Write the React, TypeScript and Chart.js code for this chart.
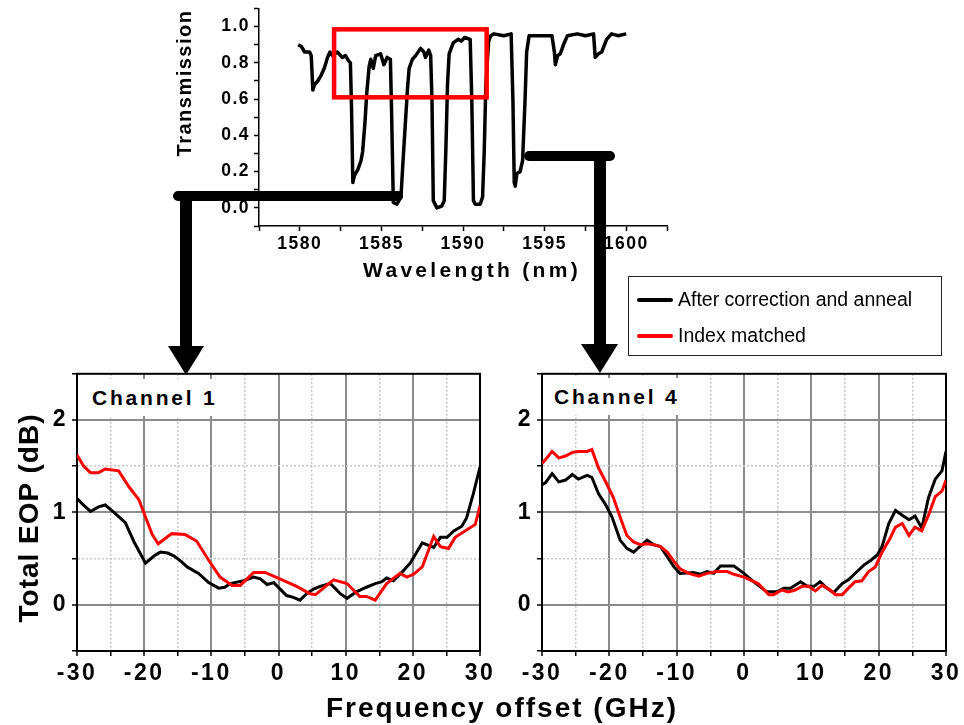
import React, { useEffect, useRef } from 'react';
import { Chart, registerables } from 'chart.js';

Chart.register(...registerables);

const FONT = '"Liberation Sans", Arial, Helvetica, sans-serif';

// ---------- Inset: transmission spectrum ----------
const WL_NM = [
  1579.9, 1580.1, 1580.3, 1580.6, 1580.7, 1580.8, 1580.9, 1581.1, 1581.3, 1581.5, 1581.7, 1581.85, 1582.0, 1582.3,
  1582.6, 1582.8, 1583.0, 1583.1, 1583.17, 1583.25, 1583.35, 1583.55, 1583.75, 1583.85, 1584.0, 1584.1, 1584.25,
  1584.35, 1584.5, 1584.65, 1584.95, 1585.15, 1585.35, 1585.55, 1585.62, 1585.73, 1585.95, 1586.2, 1586.3, 1586.45,
  1586.6, 1586.7, 1586.9, 1587.1, 1587.4, 1587.6, 1587.7, 1587.9, 1588.02, 1588.1, 1588.18, 1588.4, 1588.7, 1588.85,
  1588.95, 1589.05, 1589.15, 1589.4, 1589.7, 1589.9, 1590.1, 1590.44, 1590.54, 1590.64, 1590.75, 1591.05, 1591.2,
  1591.3, 1591.4, 1591.57, 1591.7, 1591.9, 1592.5, 1592.95, 1593.06, 1593.14, 1593.2, 1593.3, 1593.5, 1593.65,
  1593.8, 1593.9, 1594.05, 1594.8, 1595.45, 1595.6, 1595.66, 1595.8, 1595.96, 1596.2, 1596.4, 1597.0, 1597.5,
  1598.0, 1598.1, 1598.3, 1598.5, 1598.8, 1599.1, 1599.5, 1600.0,
];
const WL_T = [
  0.90, 0.89, 0.86, 0.86, 0.84, 0.65, 0.68, 0.70, 0.73, 0.77, 0.83, 0.86, 0.84, 0.86,
  0.83, 0.84, 0.81, 0.80, 0.55, 0.14, 0.18, 0.21, 0.26, 0.31, 0.48, 0.63, 0.78,
  0.82, 0.77, 0.84, 0.85, 0.79, 0.83, 0.82, 0.55, 0.03, 0.02, 0.06, 0.22, 0.44,
  0.66, 0.77, 0.82, 0.84, 0.88, 0.86, 0.83, 0.87, 0.84, 0.59, 0.04, 0.00, 0.01, 0.04,
  0.32, 0.68, 0.85, 0.91, 0.93, 0.92, 0.94, 0.93, 0.59, 0.04, 0.02, 0.02, 0.06,
  0.31, 0.68, 0.92, 0.95, 0.96, 0.95, 0.96, 0.59, 0.14, 0.12, 0.19, 0.20, 0.26,
  0.59, 0.86, 0.95, 0.95, 0.95, 0.86, 0.79, 0.84, 0.85, 0.91, 0.95, 0.96, 0.95,
  0.96, 0.83, 0.85, 0.86, 0.93, 0.96, 0.95, 0.96,
];
// highlighted window (data coordinates of the inset)
const HIGHLIGHT_NM = [1582.1, 1591.45];
const HIGHLIGHT_T = [0.61, 0.985];

// ---------- Channel 1 ----------
const CH1_ANNEAL_X = [
  -30, -28.9, -28, -26.8, -25.8, -24.5, -22.8, -21.5, -19.8, -18.5, -17.6, -16.5, -15.6, -14.5, -13.6, -11.9, -10.4,
  -8.9, -8, -7.2, -5.2, -3.7, -2.7, -1.7, -0.7, 1.2, 2.2, 3.2, 4.2, 5.2, 6.2, 7.7, 8.4, 9.2, 10.2, 11.6, 13.1, 14.4,
  15.4, 16.1, 17.1, 18.6, 19.6, 21.4, 23.1, 24.1, 25.1, 26.1, 27.3, 28.0, 29.0, 30,
];
const CH1_ANNEAL_Y = [
  1.15, 1.07, 1.01, 1.06, 1.08, 1.0, 0.89, 0.68, 0.45, 0.53, 0.57, 0.56, 0.53, 0.47, 0.41, 0.34, 0.24,
  0.18, 0.19, 0.23, 0.26, 0.30, 0.28, 0.22, 0.24, 0.10, 0.08, 0.05, 0.12, 0.17, 0.20, 0.23, 0.18, 0.12, 0.07, 0.14, 0.19, 0.23,
  0.25, 0.29, 0.26, 0.37, 0.45, 0.67, 0.62, 0.73, 0.73, 0.80, 0.85, 0.94, 1.20, 1.49,
];
const CH1_INDEX_X = [
  -30, -29, -28, -26.8, -25.8, -23.8, -22.3, -20.8, -18.8, -17.9, -15.9, -13.9, -12.2, -10.2, -8.7, -6.9, -5.7,
  -3.7, -2.0, 0.2, 2.7, 4.7, 5.5, 8.2, 10.2, 12.1, 13.1, 14.4, 16.1, 18.1, 19.1, 20.1, 21.4, 23.1, 24.1, 25.3,
  26.3, 28.0, 29.3, 30,
];
const CH1_INDEX_Y = [
  1.62, 1.50, 1.43, 1.43, 1.47, 1.45, 1.28, 1.14, 0.76, 0.66, 0.77, 0.76, 0.69, 0.46, 0.30, 0.21, 0.21,
  0.35, 0.35, 0.28, 0.20, 0.12, 0.11, 0.27, 0.23, 0.09, 0.09, 0.05, 0.23, 0.34, 0.30, 0.33, 0.41, 0.74, 0.63, 0.61,
  0.73, 0.81, 0.87, 1.07,
];

// ---------- Channel 4 ----------
const CH4_ANNEAL_X = [
  -30, -29.5, -28.5, -27.5, -26.5, -25.5, -24.6, -23.3, -22.6, -21.6, -20.6, -19.6, -18.4, -17.4, -16.4, -14.4,
  -13.4, -12.4, -11.4, -10.4, -9.5, -7.5, -6.5, -5.5, -4.5, -3.5, -1.5, 0, 1.4, 3.4, 4.9, 5.9, 6.9, 8.4, 9.4, 10.4,
  11.3, 12.3, 13.3, 14.6, 15.5, 16.8, 17.8, 18.8, 19.8, 20.5, 21.5, 22.5, 23.5, 24.5, 25.4, 26.4, 27.4, 28.4,
  29.4, 30,
];
const CH4_ANNEAL_Y = [
  1.30, 1.32, 1.42, 1.33, 1.35, 1.41, 1.36, 1.40, 1.38, 1.20, 1.09, 0.95, 0.70, 0.61, 0.57, 0.70,
  0.65, 0.63, 0.52, 0.41, 0.34, 0.35, 0.33, 0.36, 0.34, 0.42, 0.42, 0.34, 0.25, 0.14, 0.14, 0.18, 0.18, 0.25, 0.20, 0.20,
  0.25, 0.18, 0.13, 0.23, 0.27, 0.36, 0.43, 0.48, 0.54, 0.63, 0.88, 1.02, 0.97, 0.92, 0.96, 0.83, 1.16, 1.36,
  1.45, 1.66,
];
const CH4_INDEX_X = [
  -30, -29.5, -28.5, -27.5, -26.5, -25.5, -24.6, -23.3, -22.6, -21.6, -20.6, -19.4, -18.4, -17.4, -16.4, -15.4,
  -14.4, -13.4, -12.4, -11.4, -10.4, -9.5, -8.2, -6.7, -5.5, -4.0, -2.5, -1.5, 0, 2.1, 3.7, 4.4, 5.6, 6.6, 7.6,
  8.6, 9.6, 10.6, 11.6, 12.6, 13.6, 14.6, 15.5, 16.5, 17.5, 18.5, 19.5, 20.5, 21.7, 22.5, 23.5, 24.5, 25.4, 26.4,
  27.4, 28.4, 29.4, 30,
];
const CH4_INDEX_Y = [
  1.53, 1.57, 1.66, 1.59, 1.61, 1.65, 1.66, 1.66, 1.68, 1.48, 1.34, 1.16, 0.95, 0.75, 0.68, 0.65,
  0.66, 0.65, 0.63, 0.57, 0.47, 0.39, 0.34, 0.31, 0.34, 0.36, 0.36, 0.33, 0.30, 0.23, 0.11, 0.11, 0.16, 0.14, 0.16,
  0.20, 0.20, 0.15, 0.21, 0.17, 0.11, 0.11, 0.18, 0.25, 0.26, 0.36, 0.41, 0.57, 0.72, 0.84, 0.88, 0.75, 0.84, 0.80,
  0.97, 1.17, 1.23, 1.35,
];

const X_TICK_LABELS = [-30, -20, -10, 0, 10, 20, 30];
const Y_TICK_LABELS = [0, 1, 2];
const SERIES_NAMES = ['After correction and anneal', 'Index matched'];
const SERIES_COLORS = ['#000000', '#ff0000'];

const zip = (xs: number[], ys: number[]) => xs.map((x, i) => ({ x, y: ys[i] }));
const near = (a: number, b: number) => Math.abs(a - b) < 1e-6;

const spacingPlugin = (px: string) => ({
  id: 'letterSpacing',
  beforeDraw(chart: any) {
    (chart.ctx as any).letterSpacing = px;
  },
  afterDraw(chart: any) {
    (chart.ctx as any).letterSpacing = '0px';
  },
});

const framePlugin = {
  id: 'frame',
  beforeDatasetsDraw(chart: any) {
    const { ctx, chartArea: a } = chart;
    ctx.save();
    ctx.strokeStyle = '#000';
    ctx.lineWidth = 2;
    ctx.strokeRect(a.left, a.top, a.right - a.left, a.bottom - a.top);
    ctx.restore();
  },
};

const highlightPlugin = {
  id: 'highlight',
  afterDatasetsDraw(chart: any) {
    const { ctx } = chart;
    const xs = chart.scales.x;
    const ys = chart.scales.y;
    const x1 = xs.getPixelForValue(HIGHLIGHT_NM[0]);
    const x2 = xs.getPixelForValue(HIGHLIGHT_NM[1]);
    const y1 = ys.getPixelForValue(HIGHLIGHT_T[1]);
    const y2 = ys.getPixelForValue(HIGHLIGHT_T[0]);
    ctx.save();
    ctx.strokeStyle = '#ff0000';
    ctx.lineWidth = 4.5;
    ctx.strokeRect(x1, y1, x2 - x1, y2 - y1);
    ctx.restore();
  },
};

function channelConfig(ax: number[], ay: number[], ix: number[], iy: number[], yWidth: number): any {
  const xMajor = (v: number) => X_TICK_LABELS.some((t) => near(t, v));
  const yMajor = (v: number) => near(v, Math.round(v));
  return {
    type: 'line',
    data: {
      datasets: [
        { label: SERIES_NAMES[1], data: zip(ix, iy), borderColor: SERIES_COLORS[1], borderWidth: 3, pointRadius: 0, tension: 0 },
        { label: SERIES_NAMES[0], data: zip(ax, ay), borderColor: SERIES_COLORS[0], borderWidth: 3, pointRadius: 0, tension: 0 },
      ],
    },
    options: {
      responsive: false,
      animation: false,
      events: [],
      layout: { padding: { left: 0, right: 18, top: 16, bottom: 0 } },
      plugins: { legend: { display: false }, tooltip: { enabled: false }, title: { display: false } },
      scales: {
        x: {
          type: 'linear',
          min: -30,
          max: 30,
          afterFit: (s: any) => { s.height = 39; },
          ticks: {
            stepSize: 5,
            autoSkip: false,
            maxRotation: 0,
            padding: 4,
            color: '#000',
            font: { family: FONT, size: 23, weight: 'bold' },
            callback: (v: any) => (xMajor(Number(v)) ? String(Math.round(Number(v))) : ''),
          },
          grid: {
            color: (c: any) => (c.tick && xMajor(c.tick.value) ? '#8c8c8c' : '#c8c8c8'),
            lineWidth: (c: any) => (c.tick && xMajor(c.tick.value) ? 2 : 1.5),
            tickColor: '#000',
            tickLength: 5,
            tickWidth: 1.5,
          },
          border: {
            display: true,
            color: '#000',
            width: 2,
            dash: (c: any) => (c.tick && !xMajor(c.tick.value) ? [2, 2] : []),
          },
        },
        y: {
          type: 'linear',
          min: -0.5,
          max: 2.5,
          afterFit: (s: any) => { s.width = yWidth; },
          ticks: {
            stepSize: 0.5,
            autoSkip: false,
            padding: 4,
            color: '#000',
            font: { family: FONT, size: 23, weight: 'bold' },
            callback: (v: any) => {
              const n = Number(v);
              return Y_TICK_LABELS.some((t) => near(t, n)) ? String(Math.round(n)) : '';
            },
          },
          grid: {
            color: (c: any) => (c.tick && yMajor(c.tick.value) ? '#8c8c8c' : '#c8c8c8'),
            lineWidth: (c: any) => (c.tick && yMajor(c.tick.value) ? 2 : 1.5),
            tickColor: '#000',
            tickLength: 5,
            tickWidth: 1.5,
          },
          border: {
            display: true,
            color: '#000',
            width: 2,
            dash: (c: any) => (c.tick && !yMajor(c.tick.value) ? [2, 2] : []),
          },
        },
      },
    },
    plugins: [spacingPlugin('2.5px'), framePlugin],
  };
}

function insetConfig(): any {
  return {
    type: 'line',
    data: {
      datasets: [
        { label: 'Transmission', data: zip(WL_NM, WL_T), borderColor: '#000', borderWidth: 3.5, pointRadius: 0, tension: 0, borderJoinStyle: 'round' },
      ],
    },
    options: {
      responsive: false,
      animation: false,
      events: [],
      layout: { padding: { left: 0, right: 13, top: 12, bottom: 0 } },
      plugins: { legend: { display: false }, tooltip: { enabled: false } },
      scales: {
        x: {
          type: 'linear',
          min: 1577.5,
          max: 1602.5,
          afterFit: (s: any) => { s.height = 34; },
          ticks: {
            stepSize: 2.5,
            autoSkip: false,
            maxRotation: 0,
            padding: 3,
            color: '#000',
            font: { family: FONT, size: 17.5, weight: 'bold' },
            callback: (v: any) => {
              const n = Number(v);
              return near(n % 5, 0) ? String(Math.round(n)) : '';
            },
          },
          grid: { drawOnChartArea: false, tickColor: '#000', tickLength: 5, tickWidth: 1.5 },
          border: { display: true, color: '#000', width: 1.5 },
        },
        y: {
          type: 'linear',
          min: -0.1,
          max: 1.1,
          afterFit: (s: any) => { s.width = 99; },
          ticks: {
            stepSize: 0.1,
            autoSkip: false,
            padding: 4,
            color: '#000',
            font: { family: FONT, size: 17.5, weight: 'bold' },
            callback: (v: any) => {
              const n = Math.round(Number(v) * 10);
              return n >= 0 && n <= 10 && n % 2 === 0 ? (n / 10).toFixed(1) : '';
            },
          },
          grid: { drawOnChartArea: false, tickColor: '#000', tickLength: 5, tickWidth: 1.5 },
          border: { display: true, color: '#000', width: 1.5 },
        },
      },
    },
    plugins: [spacingPlugin('1.5px'), highlightPlugin],
  };
}

function ChartBox({ left, top, width, height, build }: { left: number; top: number; width: number; height: number; build: () => any }) {
  const ref = useRef<HTMLCanvasElement | null>(null);
  useEffect(() => {
    if (!ref.current) return;
    const chart = new Chart(ref.current, build());
    return () => chart.destroy();
  }, []);
  return (
    <canvas
      ref={ref}
      width={width}
      height={height}
      style={{ position: 'absolute', left, top, width, height }}
    />
  );
}

const textBase: React.CSSProperties = {
  position: 'absolute',
  fontFamily: FONT,
  fontWeight: 'bold',
  color: '#000',
  whiteSpace: 'nowrap',
  lineHeight: 1,
};

export default function App() {
  return (
    <div style={{ position: 'absolute', left: 0, top: 0, width: 964, height: 725, background: '#fff', overflow: 'hidden' }}>
      <ChartBox left={160} top={-6} width={520} height={266} build={insetConfig} />
      <ChartBox left={0} top={356} width={498} height={334} build={() => channelConfig(CH1_ANNEAL_X, CH1_ANNEAL_Y, CH1_INDEX_X, CH1_INDEX_Y, 77)} />
      <ChartBox left={490} top={356} width={474} height={334} build={() => channelConfig(CH4_ANNEAL_X, CH4_ANNEAL_Y, CH4_INDEX_X, CH4_INDEX_Y, 52)} />

      <svg width={964} height={725} style={{ position: 'absolute', left: 0, top: 0, pointerEvents: 'none' }}>
        <g stroke="#000" fill="none" strokeLinecap="round">
          <line x1={178} y1={196} x2={398} y2={196} strokeWidth={10} />
          <line x1={186} y1={196} x2={186} y2={350} strokeWidth={12} strokeLinecap="butt" />
          <line x1={529} y1={156} x2={610} y2={156} strokeWidth={10} />
          <line x1={600} y1={156} x2={600} y2={348} strokeWidth={12} strokeLinecap="butt" />
        </g>
        <polygon points="168,346 204,346 186,375" fill="#000" />
        <polygon points="581,344 618,344 600,373" fill="#000" />
      </svg>

      <div style={{ ...textBase, left: 184, top: 83, fontSize: 20, letterSpacing: 1.5, transform: 'translate(-50%,-50%) rotate(-90deg)' }}>Transmission</div>
      <div style={{ ...textBase, left: 472, top: 269, fontSize: 21, letterSpacing: 3.3, transform: 'translate(-50%,-50%)' }}>Wavelength (nm)</div>
      <div style={{ ...textBase, left: 29, top: 518, fontSize: 28, letterSpacing: 1, transform: 'translate(-50%,-50%) rotate(-90deg)' }}>Total EOP (dB)</div>
      <div style={{ ...textBase, left: 502, top: 708, fontSize: 28, letterSpacing: 2, transform: 'translate(-50%,-50%)' }}>Frequency offset (GHz)</div>

      <div style={{ ...textBase, left: 80, top: 379, height: 37, lineHeight: '37px', padding: '0 8px 0 12px', background: '#fff', fontSize: 21, letterSpacing: 2.8 }}>Channel 1</div>
      <div style={{ ...textBase, left: 544, top: 378, height: 37, lineHeight: '37px', padding: '0 8px 0 10px', background: '#fff', fontSize: 21, letterSpacing: 2.8 }}>Channel 4</div>

      <div style={{ position: 'absolute', left: 628, top: 276, width: 312, height: 78, border: '1.5px solid #222', background: '#fff', fontFamily: FONT, fontSize: 19.5, color: '#000' }}>
        {SERIES_NAMES.map((name, i) => (
          <div key={name} style={{ position: 'absolute', left: 0, top: i === 0 ? 9 : 45, height: 28, display: 'flex', alignItems: 'center', whiteSpace: 'nowrap' }}>
            <span style={{ display: 'inline-block', marginLeft: 8, width: 36, height: 4, borderRadius: 2, background: SERIES_COLORS[i] }} />
            <span style={{ marginLeft: 5, lineHeight: 1 }}>{name}</span>
          </div>
        ))}
      </div>
    </div>
  );
}
